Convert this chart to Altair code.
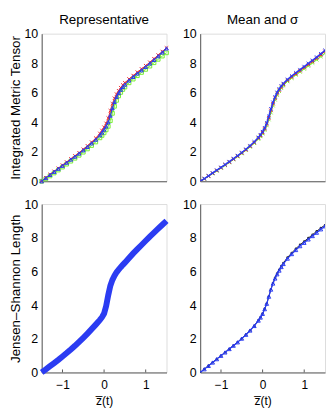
import altair as alt
import pandas as pd

# ---------------- data ----------------
z = [-1.5, -1.4, -1.3, -1.2, -1.1, -1.0, -0.9, -0.8, -0.7, -0.6, -0.5, -0.4, -0.3, -0.2, -0.1,
     -0.05, 0.0, 0.05, 0.1, 0.15, 0.2, 0.25, 0.3, 0.35, 0.4, 0.45, 0.5,
     0.6, 0.7, 0.8, 0.9, 1.0, 1.1, 1.2, 1.3, 1.4, 1.5]

# Integrated Metric Tensor - Representative
imt_rep_blue = [0.00, 0.22, 0.43, 0.64, 0.85, 1.05, 1.26, 1.47, 1.67, 1.88, 2.10, 2.33, 2.57, 2.82, 3.12,
                3.30, 3.50, 3.72, 4.00, 4.45, 4.95, 5.38, 5.72, 5.98, 6.20, 6.39, 6.55,
                6.83, 7.07, 7.30, 7.52, 7.75, 7.98, 8.22, 8.47, 8.73, 9.00]
imt_rep_green = [0.00, 0.16, 0.36, 0.56, 0.76, 0.96, 1.16, 1.36, 1.56, 1.76, 1.97, 2.19, 2.42, 2.66, 2.94,
                 3.10, 3.28, 3.48, 3.72, 4.10, 4.60, 5.08, 5.48, 5.78, 6.02, 6.22, 6.38,
                 6.67, 6.92, 7.15, 7.37, 7.58, 7.80, 8.03, 8.26, 8.48, 8.70]
imt_rep_red = [0.00, 0.24, 0.46, 0.67, 0.88, 1.09, 1.30, 1.51, 1.72, 1.93, 2.16, 2.40, 2.65, 2.92, 3.24,
               3.44, 3.66, 3.92, 4.28, 4.78, 5.25, 5.62, 5.90, 6.13, 6.34, 6.52, 6.67,
               6.93, 7.16, 7.39, 7.61, 7.83, 8.06, 8.30, 8.55, 8.79, 9.03]

# Integrated Metric Tensor - Mean and sigma
imt_mean_blue = [0.00, 0.18, 0.37, 0.56, 0.75, 0.94, 1.13, 1.33, 1.53, 1.74, 1.95, 2.17, 2.41, 2.67, 2.97,
                 3.15, 3.36, 3.62, 3.95, 4.40, 4.90, 5.35, 5.72, 6.02, 6.26, 6.46, 6.62,
                 6.90, 7.13, 7.35, 7.56, 7.77, 7.98, 8.19, 8.41, 8.64, 8.87]
imt_mean_green = [0.00, 0.16, 0.34, 0.52, 0.70, 0.89, 1.08, 1.27, 1.47, 1.67, 1.88, 2.10, 2.33, 2.58, 2.86,
                  3.04, 3.23, 3.47, 3.78, 4.18, 4.65, 5.12, 5.52, 5.84, 6.10, 6.31, 6.48,
                  6.76, 6.99, 7.21, 7.41, 7.61, 7.81, 8.02, 8.23, 8.45, 8.67]
imt_mean_red = [0.00, 0.17, 0.35, 0.54, 0.73, 0.92, 1.11, 1.30, 1.50, 1.70, 1.91, 2.13, 2.37, 2.62, 2.92,
                3.10, 3.30, 3.55, 3.88, 4.30, 4.80, 5.25, 5.63, 5.94, 6.18, 6.39, 6.56,
                6.83, 7.06, 7.28, 7.49, 7.70, 7.90, 8.11, 8.33, 8.56, 8.80]

# Jensen-Shannon Length - Representative
js_rep = [0.00, 0.18, 0.37, 0.56, 0.75, 0.95, 1.15, 1.36, 1.58, 1.82, 2.06, 2.31, 2.57, 2.84, 3.12,
          3.28, 3.50, 3.95, 4.60, 5.15, 5.50, 5.75, 5.95, 6.10, 6.25, 6.39, 6.52,
          6.80, 7.07, 7.32, 7.57, 7.82, 8.07, 8.30, 8.54, 8.77, 9.00]

# Jensen-Shannon Length - Mean and sigma
js_mean_black = [0.00, 0.20, 0.40, 0.60, 0.80, 1.00, 1.20, 1.40, 1.60, 1.80, 2.02, 2.25, 2.50, 2.78, 3.10,
                 3.28, 3.50, 3.78, 4.10, 4.52, 4.95, 5.32, 5.62, 5.88, 6.10, 6.32, 6.50,
                 6.83, 7.10, 7.35, 7.58, 7.78, 7.98, 8.18, 8.38, 8.58, 8.75]
js_mean_blue = [0.00, 0.19, 0.39, 0.59, 0.79, 0.99, 1.19, 1.39, 1.59, 1.79, 2.01, 2.24, 2.49, 2.76, 3.08,
                3.26, 3.48, 3.76, 4.08, 4.50, 4.92, 5.28, 5.58, 5.83, 6.05, 6.26, 6.44,
                6.76, 7.03, 7.27, 7.50, 7.70, 7.90, 8.10, 8.30, 8.50, 8.68]

x_ticks = [-1, 0, 1]
y_ticks = [0, 2, 4, 6, 8, 10]
titles = ["Representative", "Mean and \u03c3"]
y_titles = ["Integrated Metric Tensor", "Jensen\u2013Shannon Length"]
x_title = "z\u0305(t)"

# ---------------- styling ----------------
FONT = "Liberation Sans"
GRAY = "#5a5a5a"
BLUE = "#2b3cf2"
GREEN = "#77f032"
RED = "#f02a2a"
BLACK = "#222222"
W = 126
H_TOP = 149
H_BOT = 170
XPATH = "M-1,-1L1,1M-1,1L1,-1"


def enc(show_x, ytitle):
    xe = alt.X("x:Q",
               scale=alt.Scale(domain=[-1.5, 1.5], nice=False, zero=False),
               axis=alt.Axis(values=x_ticks, labels=show_x, title=x_title if show_x else None,
                             grid=False, ticks=False, domainColor=GRAY, labelColor="black",
                             labelFont=FONT, labelFontSize=12, labelPadding=7,
                             titleFont=FONT, titleFontSize=12, titleFontWeight="normal",
                             titleColor="black", titlePadding=5))
    ye = alt.Y("y:Q",
               scale=alt.Scale(domain=[0, 10], nice=False),
               axis=alt.Axis(values=y_ticks, title=ytitle, grid=False, ticks=False,
                             domainColor=GRAY, labelColor="black", labelFont=FONT,
                             labelFontSize=12.5, labelPadding=4,
                             titleFont=FONT, titleFontSize=13.5, titleFontWeight="normal",
                             titleColor="black", titlePadding=1))
    return xe, ye


def series(ys, color, show_x, ytitle, shape=None, size=14, width=1.0, filled=False, clip=False):
    d = pd.DataFrame({"x": z, "y": ys})
    xe, ye = enc(show_x, ytitle)
    layers = [alt.Chart(d).mark_line(color=color, strokeWidth=width, clip=clip).encode(x=xe, y=ye)]
    if shape is not None:
        layers.append(alt.Chart(d).mark_point(shape=shape, color=color, size=size, filled=filled,
                                              strokeWidth=1, opacity=1, clip=clip).encode(x=xe, y=ye))
    return layers


def tick_layer(h, ytitle):
    d = pd.DataFrame({"x": x_ticks})
    xe, _ = enc(True, ytitle)
    return alt.Chart(d).mark_rule(color=GRAY, strokeWidth=1).encode(
        x=xe, y=alt.value(h), y2=alt.value(h - 3))


def ttl(t):
    return alt.TitleParams(t, font=FONT, fontSize=13.5, fontWeight="normal", color="black", offset=1)


# top-left
tl = alt.layer(
    *series(imt_rep_blue, BLACK, False, y_titles[0], width=1),
    *series(imt_rep_green, GREEN, False, y_titles[0], shape="square", size=14),
    *series(imt_rep_red, RED, False, y_titles[0], shape=XPATH, size=12),
    *series(imt_rep_blue, BLUE, False, y_titles[0], shape="triangle-up", size=14),
).properties(width=W, height=H_TOP, title=ttl(titles[0]))

# top-right
tr = alt.layer(
    *series(imt_mean_green, GREEN, False, None, shape=XPATH, size=12, clip=True),
    *series(imt_mean_red, RED, False, None, shape=XPATH, size=12, clip=True),
    *series(imt_mean_blue, BLUE, False, None, shape=XPATH, size=12, width=1.5, clip=True),
).properties(width=W, height=H_TOP, title=ttl(titles[1]))

# bottom-left
bl = alt.layer(
    *series(js_rep, BLUE, True, y_titles[1], width=6),
    tick_layer(H_BOT, y_titles[1]),
).properties(width=W, height=H_BOT)

# bottom-right
br = alt.layer(
    *series(js_mean_black, BLACK, True, None, shape="circle", size=6, filled=True, clip=True),
    *series(js_mean_blue, BLUE, True, None, shape="triangle-up", size=14, width=1.2, clip=True),
    tick_layer(H_BOT, None),
).properties(width=W, height=H_BOT)

chart = alt.concat(
    tl, tr, bl, br, columns=2,
    spacing={"row": 23, "column": 34}, bounds="flush",
).properties(
    padding={"left": 0, "top": 3, "right": 0, "bottom": 0}
).configure_view(stroke=None).configure(background="white")

chart.save("out.html", embed_options={"renderer": "svg", "actions": False})
